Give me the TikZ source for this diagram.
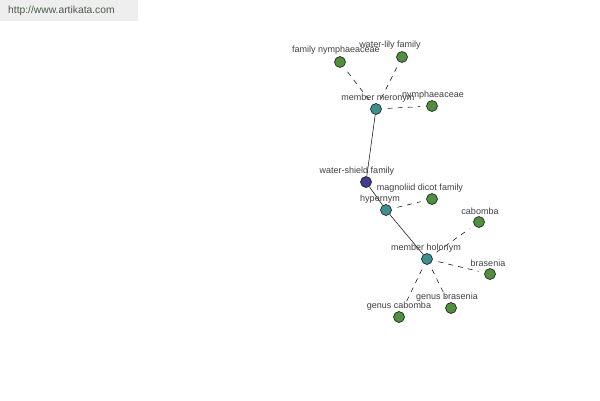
\documentclass[tikz,border=0pt]{standalone}
\usepackage{fontspec}
\setmainfont{Liberation Sans}
\begin{document}
\begin{tikzpicture}[x=1pt,y=-1pt,
  vtx/.style={circle,draw=black,line width=0.5pt,minimum size=11pt,inner sep=0pt},
  leaf/.style={vtx,fill=leafgreen},
  rel/.style={vtx,fill=relteal},
  hub/.style={vtx,fill=hubblue},
  lbl/.style={font=\fontsize{9}{10}\selectfont,text=labelgray,inner sep=0pt},
  solidedge/.style={draw=black,line width=0.5pt},
  dashedge/.style={draw=black,line width=0.5pt,dashed,dash pattern=on 5pt off 5pt,shorten <=6pt,shorten >=6pt}]
\definecolor{leafgreen}{HTML}{4F8F3F}
\definecolor{relteal}{HTML}{3F8F8F}
\definecolor{hubblue}{HTML}{40408F}
\definecolor{labelgray}{HTML}{404040}
\definecolor{headbg}{HTML}{EEEEEE}
\definecolor{headtext}{HTML}{4A5A4A}
\useasboundingbox[fill=white] (0,0) rectangle (600,400);
\node[fill=headbg,minimum width=138pt,minimum height=21pt,inner sep=0pt,anchor=north west] (head) at (0,0) {};
\node[font=\fontsize{10.3}{12}\selectfont,text=headtext,anchor=west,inner sep=0pt] (url) at (8,11) {http://www.artikata.com};

\node[hub] (ws) at (366,182) {};
\node[rel] (mm) at (376,109) {};
\node[rel] (hy) at (386,210) {};
\node[rel] (mh) at (427,259) {};
\node[leaf] (fn) at (340,62) {};
\node[leaf] (wl) at (402,57) {};
\node[leaf] (ny) at (432,106) {};
\node[leaf] (md) at (432,199) {};
\node[leaf] (ca) at (479,222) {};
\node[leaf] (br) at (490,274) {};
\node[leaf] (gb) at (451,308) {};
\node[leaf] (gc) at (399,317) {};

\draw[solidedge] (mm) -- (ws);
\draw[solidedge] (ws) -- (hy);
\draw[solidedge] (hy) -- (mh);
\draw[dashedge] (mm) -- (fn);
\draw[dashedge] (mm) -- (wl);
\draw[dashedge] (mm) -- (ny);
\draw[dashedge] (hy) -- (md);
\draw[dashedge] (mh) -- (ca);
\draw[dashedge] (mh) -- (br);
\draw[dashedge] (mh) -- (gb);
\draw[dashedge] (mh) -- (gc);

\node[lbl] (lfn) at (336,50) {family nymphaeaceae};
\node[lbl] (lwl) at (390,45) {water-lily family};
\node[lbl] (lmm) at (378,98) {member meronym};
\node[lbl] (lny) at (433,95) {nymphaeaceae};
\node[lbl] (lws) at (357,171) {water-shield family};
\node[lbl] (lmd) at (420,188) {magnoliid dicot family};
\node[lbl] (lhy) at (380,199) {hypernym};
\node[lbl] (lca) at (480,211) {cabomba};
\node[lbl] (lmh) at (426,248) {member holonym};
\node[lbl] (lbr) at (488,263) {brasenia};
\node[lbl] (lgb) at (447,297) {genus brasenia};
\node[lbl] (lgc) at (399,306) {genus cabomba};
\end{tikzpicture}
\end{document}
